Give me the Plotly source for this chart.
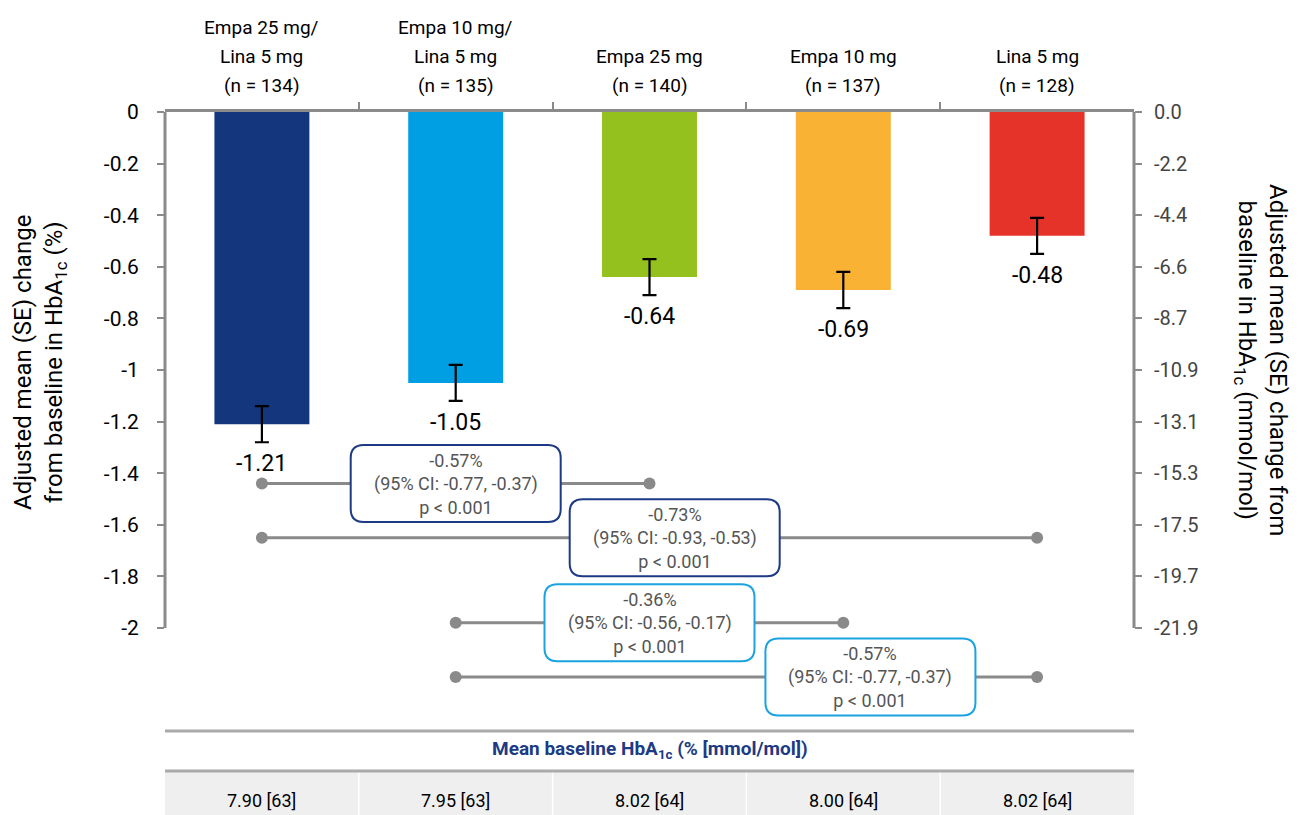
import plotly.graph_objects as go

# ---------------- data ----------------
groups = ["Empa 25 mg/<br>Lina 5 mg<br>(n = 134)",
          "Empa 10 mg/<br>Lina 5 mg<br>(n = 135)",
          "Empa 25 mg<br>(n = 140)",
          "Empa 10 mg<br>(n = 137)",
          "Lina 5 mg<br>(n = 128)"]
change_pct = [-1.21, -1.05, -0.64, -0.69, -0.48]
se_pct = [0.07, 0.07, 0.07, 0.07, 0.07]
bar_colors = ["#14367c", "#009fe3", "#95c11f", "#f9b233", "#e6332a"]
baseline = ["7.90 [63]", "7.95 [63]", "8.02 [64]", "8.00 [64]", "8.02 [64]"]

left_tickvals = [0, -0.2, -0.4, -0.6, -0.8, -1.0, -1.2, -1.4, -1.6, -1.8, -2.0]
left_ticktext = ["0", "-0.2", "-0.4", "-0.6", "-0.8", "-1", "-1.2", "-1.4", "-1.6", "-1.8", "-2"]
right_ticktext = ["0.0", "-2.2", "-4.4", "-6.6", "-8.7", "-10.9", "-13.1", "-15.3", "-17.5", "-19.7", "-21.9"]

# comparisons
comp_from = [0, 0, 1, 1]
comp_to = [2, 4, 3, 4]
comp_diff = ["-0.57%", "-0.73%", "-0.36%", "-0.57%"]
comp_ci = ["(95% CI: -0.77, -0.37)", "(95% CI: -0.93, -0.53)",
           "(95% CI: -0.56, -0.17)", "(95% CI: -0.77, -0.37)"]
comp_p = ["p &lt; 0.001"] * 4

# ---------------- layout constants ----------------
W, H = 1301, 815
OFF = 8  # page body margin
ML, MT = 165 - OFF, 112 - OFF
MR = W - (1134 - OFF)
PLOT_BOTTOM = 720 - OFF
MB = H - PLOT_BOTTOM
PX_PER_X = (W - ML - MR) / 5.0
PX_PER_Y = 258.0
Y_MIN = -(PLOT_BOTTOM - MT) / PX_PER_Y
comp_levels = [-1.44, -1.65, -1.98, -2.19]
comp_box_cx = [1.0, 2.13, 2.0, 3.14]
comp_box_col = ["#1d3a84", "#1d3a84", "#1ba3e0", "#1ba3e0"]

FONT = "Roboto, Liberation Sans, sans-serif"
GRAY = "#8a8a8a"

x_idx = list(range(len(groups)))

fig = go.Figure()
fig.add_trace(go.Bar(
    x=x_idx, y=change_pct, width=0.49,
    marker=dict(color=bar_colors, line=dict(width=0)),
    error_y=dict(type="data", array=se_pct, color="black", thickness=2.2, width=7),
    hoverinfo="skip", showlegend=False))

fig.add_trace(go.Scatter(x=[0], y=[0], yaxis="y2", mode="markers",
                         marker=dict(opacity=0), hoverinfo="skip", showlegend=False))

for a, b, lvl in zip(comp_from, comp_to, comp_levels):
    fig.add_trace(go.Scatter(x=[a, b], y=[lvl, lvl], mode="lines+markers",
                             line=dict(color=GRAY, width=3),
                             marker=dict(color=GRAY, size=12),
                             hoverinfo="skip", showlegend=False))

shapes = []
annotations = []


def rrect(cx, cy, wpx, hpx, rpx):
    hw = wpx / 2 / PX_PER_X
    hh = hpx / 2 / PX_PER_Y
    rx = rpx / PX_PER_X
    ry = rpx / PX_PER_Y
    x0, x1, y0, y1 = cx - hw, cx + hw, cy - hh, cy + hh
    return (f"M {x0+rx},{y1} L {x1-rx},{y1} Q {x1},{y1} {x1},{y1-ry} "
            f"L {x1},{y0+ry} Q {x1},{y0} {x1-rx},{y0} L {x0+rx},{y0} "
            f"Q {x0},{y0} {x0},{y0+ry} L {x0},{y1-ry} Q {x0},{y1} {x0+rx},{y1} Z")


for cx, lvl, col, d, ci, p in zip(comp_box_cx, comp_levels, comp_box_col, comp_diff, comp_ci, comp_p):
    shapes.append(dict(type="path", path=rrect(cx, lvl, 210, 77, 13), xref="x", yref="y",
                       line=dict(color=col, width=2), fillcolor="white", layer="above"))
    annotations.append(dict(x=cx, y=lvl, xref="x", yref="y", showarrow=False,
                            text=f"{d}<br>{ci}<br>{p}",
                            xanchor="center", yanchor="middle",
                            font=dict(family=FONT, size=18, color="#555555"),
                            align="center"))

shapes.append(dict(type="line", xref="paper", yref="y", x0=0, x1=0, y0=0, y1=-2,
                   line=dict(color=GRAY, width=3), layer="below"))
shapes.append(dict(type="line", xref="paper", yref="y", x0=1, x1=1, y0=0, y1=-2,
                   line=dict(color=GRAY, width=3), layer="below"))

for i, (v, s) in enumerate(zip(change_pct, se_pct)):
    annotations.append(dict(x=i, y=v - s, xref="x", yref="y", showarrow=False,
                            text=f"{v:.2f}", yanchor="top", yshift=-6,
                            font=dict(family=FONT, size=23, color="black")))

for i, g in enumerate(groups):
    lines = g.split("<br>")
    for k, ln in enumerate(reversed(lines)):
        annotations.append(dict(x=i, y=1, xref="x", yref="paper", showarrow=False,
                                text=ln, yanchor="middle", yshift=27 + 29 * k,
                                font=dict(family=FONT, size=19, color="black")))


def px_x(X):
    return (X - OFF - ML) / (W - ML - MR)


def py(Y):
    return (PLOT_BOTTOM - (Y - OFF)) / (PLOT_BOTTOM - MT)


annotations.append(dict(x=px_x(40), y=py(362), xref="paper", yref="paper", showarrow=False,
                        textangle=-90, xanchor="center", yanchor="middle",
                        text="Adjusted mean (SE) change<br>from baseline in HbA<sub>1c</sub> (%)",
                        font=dict(family=FONT, size=24, color="black")))
annotations.append(dict(x=px_x(1261), y=py(360), xref="paper", yref="paper", showarrow=False,
                        textangle=90, xanchor="center", yanchor="middle",
                        text="Adjusted mean (SE) change from<br>baseline in HbA<sub>1c</sub> (mmol/mol)",
                        font=dict(family=FONT, size=24, color="black")))

# table
shapes.append(dict(type="rect", xref="paper", yref="paper", x0=0, x1=1, y0=py(823), y1=py(772),
                   fillcolor="#efefef", line=dict(width=0), layer="below"))
for b in [0.2, 0.4, 0.6, 0.8]:
    shapes.append(dict(type="line", xref="paper", yref="paper", x0=b, x1=b, y0=py(823), y1=py(772),
                       line=dict(color="white", width=1.5)))
for Y in (731, 771):
    shapes.append(dict(type="line", xref="paper", yref="paper", x0=0, x1=1, y0=py(Y), y1=py(Y),
                       line=dict(color="#aaaaaa", width=3)))
annotations.append(dict(x=0.5, y=py(749), xref="paper", yref="paper", showarrow=False,
                        xanchor="center", yanchor="middle",
                        text="<b>Mean baseline HbA<sub>1c</sub> (% [mmol/mol])</b>",
                        font=dict(family=FONT, size=19, color="#1d3a84")))
for i, bl in enumerate(baseline):
    annotations.append(dict(x=i, y=py(800), xref="x", yref="paper", showarrow=False,
                            xanchor="center", yanchor="middle",
                            text=bl, font=dict(family=FONT, size=18, color="black")))

fig.update_layout(
    width=W, height=H,
    margin=dict(l=ML, r=MR, t=MT, b=MB),
    plot_bgcolor="white", paper_bgcolor="white",
    font=dict(family=FONT),
    xaxis=dict(range=[-0.5, 4.5], side="top", showgrid=False, zeroline=False,
               showline=True, linecolor=GRAY, linewidth=3,
               tickvals=[0.5, 1.5, 2.5, 3.5], ticks="outside", ticklen=7, tickwidth=2,
               tickcolor=GRAY, showticklabels=False),
    yaxis=dict(range=[Y_MIN, 0], showgrid=False, zeroline=False, showline=False,
               tickvals=left_tickvals, ticktext=left_ticktext, ticks="outside",
               ticklen=7, tickwidth=2, tickcolor=GRAY, ticklabelstandoff=14,
               tickfont=dict(family=FONT, size=21, color="black")),
    yaxis2=dict(range=[Y_MIN, 0], overlaying="y", side="right", matches="y",
                showgrid=False, zeroline=False, showline=False,
                tickvals=left_tickvals, ticktext=right_ticktext, ticks="outside",
                ticklen=7, tickwidth=2, tickcolor=GRAY, ticklabelstandoff=8,
                tickfont=dict(family=FONT, size=20, color="#444444")),
    shapes=shapes, annotations=annotations,
)

fig.write_html("out.html")
